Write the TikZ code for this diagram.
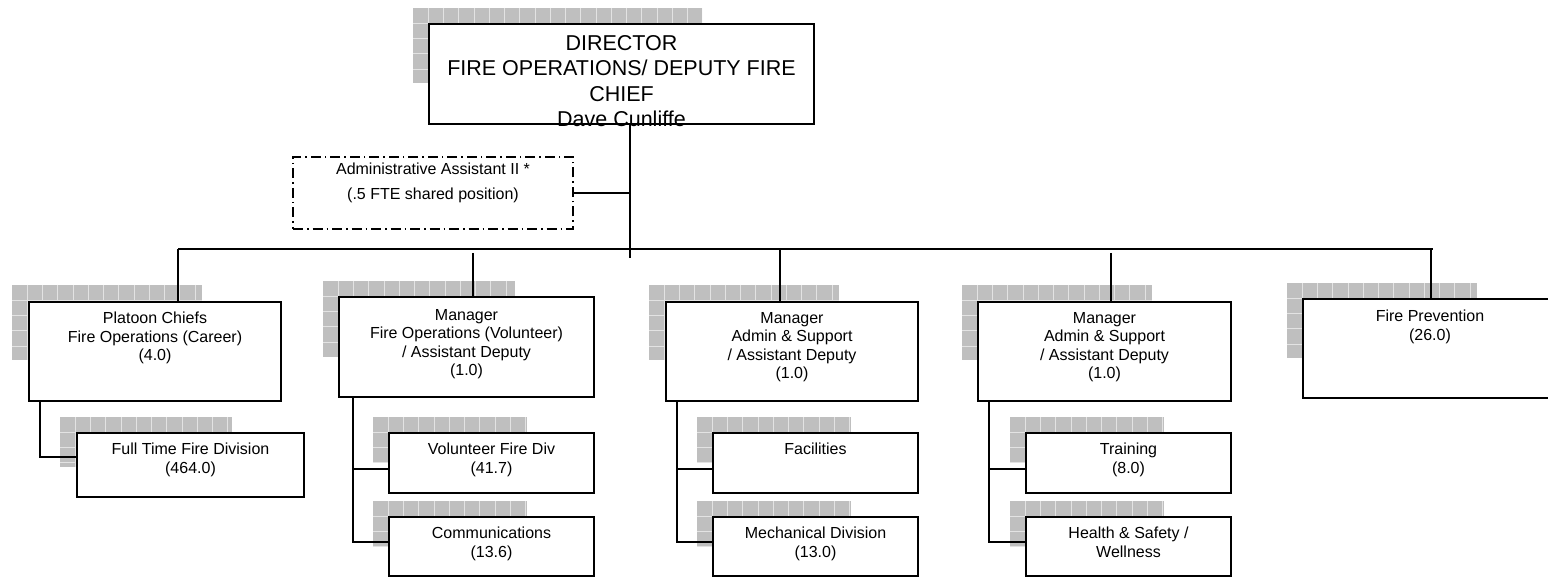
\documentclass[tikz,border=0pt]{standalone}
\usepackage{fontspec}
\setmainfont{Liberation Sans}
\usepackage{tikz}
\usetikzlibrary{positioning}

% gray grid patch peeking out behind a box: corners (x1,y1) (x2,y2)
\newcommand{\gridshade}[4]{%
  \begin{scope}
    \clip (#1,#2) rectangle (#3,#4);
    \fill[gray!50] (#1,#2) rectangle (#3,#4);
    \foreach \k in {1,...,20} {
      \draw[gray!22, line width=0.8pt] ({#1+\k*15.25},#2) -- ({#1+\k*15.25},#4);
      \draw[gray!22, line width=0.8pt] (#1,{#2+\k*15.25}) -- (#3,{#2+\k*15.25});
    }
  \end{scope}}

\begin{document}
\begin{tikzpicture}[x=1pt, y=-1pt,
    orgbox/.style = { draw, fill = white, line width = 1.8pt, inner sep = 0pt },
    staffbox/.style = { draw, fill = white, line width = 1.3pt, inner sep = 0pt,
      dash pattern = on 10pt off 4pt on 1.5pt off 4pt },
    boxtext/.style = { anchor = north, yshift = -11pt, align = center, inner sep = 0pt,
      font = \fontsize{16}{18.4}\selectfont },
    headtext/.style = { boxtext, font = \fontsize{21.5}{25.5}\selectfont },
    link/.style = { line width = 1.6pt }]
      \useasboundingbox[fill = white] (0,0) rectangle (1548,577);

      % shadows
      \gridshade{413}{8}{702}{83}
      \gridshade{12}{285}{202}{360}
      \gridshade{323}{281}{515}{357}
      \gridshade{649}{285}{839}{360}
      \gridshade{962}{285}{1152}{360}
      \gridshade{1287}{283}{1477}{358}
      \gridshade{60}{417}{232}{467}
      \gridshade{373}{417}{527}{462}
      \gridshade{373}{501}{527}{547}
      \gridshade{697}{417}{851}{462}
      \gridshade{697}{501}{851}{547}
      \gridshade{1010}{417}{1164}{462}
      \gridshade{1010}{501}{1164}{547}

      % connectors behind the boxes
      \coordinate (stem) at (630,258);
      \coordinate (bus west) at (178,249);
      \coordinate (bus east) at (1433,249);
      \draw[link] (bus west) -- (bus east);

      % boxes
      \node[orgbox, minimum width = 385pt, minimum height = 100pt,
        label = {[headtext, yshift = -1pt]north:{DIRECTOR\\FIRE OPERATIONS/ DEPUTY FIRE\\CHIEF\\Dave Cunliffe}}]
        (director) at (621.5,74) {};
      \node[staffbox, minimum width = 280pt, minimum height = 72pt,
        label = {[boxtext, yshift = 5pt, font = \fontsize{16}{25.5}\selectfont]north:{Administrative Assistant II *\\(.5 FTE shared position)}}]
        (assistant) at (433,193) {};

      \node[orgbox, minimum width = 252pt, minimum height = 99pt,
        label = {[boxtext]north:{Platoon Chiefs\\Fire Operations (Career)\\(4.0)}}]
        (platoon) at (155,351.5) {};
      \node[orgbox, minimum width = 255pt, minimum height = 100pt,
        label = {[boxtext, yshift = -2pt]north:{Manager\\Fire Operations (Volunteer)\\/ Assistant Deputy\\(1.0)}}]
        (volops) at (466.5,347) {};
      \node[orgbox, minimum width = 252pt, minimum height = 99pt,
        label = {[boxtext]north:{Manager\\Admin \& Support\\/ Assistant Deputy\\(1.0)}}]
        (support a) at (792,351.5) {};
      \node[orgbox, minimum width = 253pt, minimum height = 99pt,
        label = {[boxtext]north:{Manager\\Admin \& Support\\/ Assistant Deputy\\(1.0)}}]
        (support b) at (1104.5,351.5) {};
      \node[orgbox, minimum width = 254pt, minimum height = 99pt,
        label = {[boxtext, yshift = -1pt]north:{Fire Prevention\\(26.0)}}]
        (prevention) at (1430,348.5) {};

      \node[orgbox, minimum width = 227pt, minimum height = 64pt,
        label = {[boxtext]north:{Full Time Fire Division\\(464.0)}}]
        (fulltime) at (190.5,465) {};
      \node[orgbox, minimum width = 205pt, minimum height = 60pt,
        label = {[boxtext]north:{Volunteer Fire Div\\(41.7)}}]
        (volunteer) at (491.5,463) {};
      \node[orgbox, minimum width = 205pt, minimum height = 59pt,
        label = {[boxtext]north:{Communications\\(13.6)}}]
        (comms) at (491.5,546.5) {};
      \node[orgbox, minimum width = 205pt, minimum height = 60pt,
        label = {[boxtext]north:{Facilities}}]
        (facilities) at (815.5,463) {};
      \node[orgbox, minimum width = 205pt, minimum height = 59pt,
        label = {[boxtext]north:{Mechanical Division\\(13.0)}}]
        (mechanical) at (815.5,546.5) {};
      \node[orgbox, minimum width = 205pt, minimum height = 60pt,
        label = {[boxtext]north:{Training\\(8.0)}}]
        (training) at (1128.5,463) {};
      \node[orgbox, minimum width = 205pt, minimum height = 59pt,
        label = {[boxtext]north:{Health \& Safety /\\Wellness}}]
        (health) at (1128.5,546.5) {};

      % links
      \draw[link] (stem |- director.south) -- (stem);
      \draw[link] (assistant.east) -- (assistant.east -| stem);
      \foreach \tx/\ty/\unit in {178/249/platoon, 473/253/volops, 780/249/support a,
                                1111/253/support b, 1431/249/prevention} {
        \coordinate (tap) at (\tx,\ty);
        \draw[link] (tap) -- (tap |- \unit.north);
      }
      \draw[link] ([xshift = 12pt]platoon.south west) |- ([yshift = 8pt]fulltime.west);
      \draw[link] ([xshift = 15pt]volops.south west) |- ([yshift = -6pt]volunteer.west);
      \draw[link] ([xshift = 15pt]volops.south west) |- ([yshift = 4.5pt]comms.west);
      \draw[link] ([xshift = 12pt]support a.south west) |- ([yshift = -6pt]facilities.west);
      \draw[link] ([xshift = 12pt]support a.south west) |- ([yshift = 4.5pt]mechanical.west);
      \draw[link] ([xshift = 12pt]support b.south west) |- ([yshift = -6pt]training.west);
      \draw[link] ([xshift = 12pt]support b.south west) |- ([yshift = 4.5pt]health.west);

    \end{tikzpicture}
\end{document}
